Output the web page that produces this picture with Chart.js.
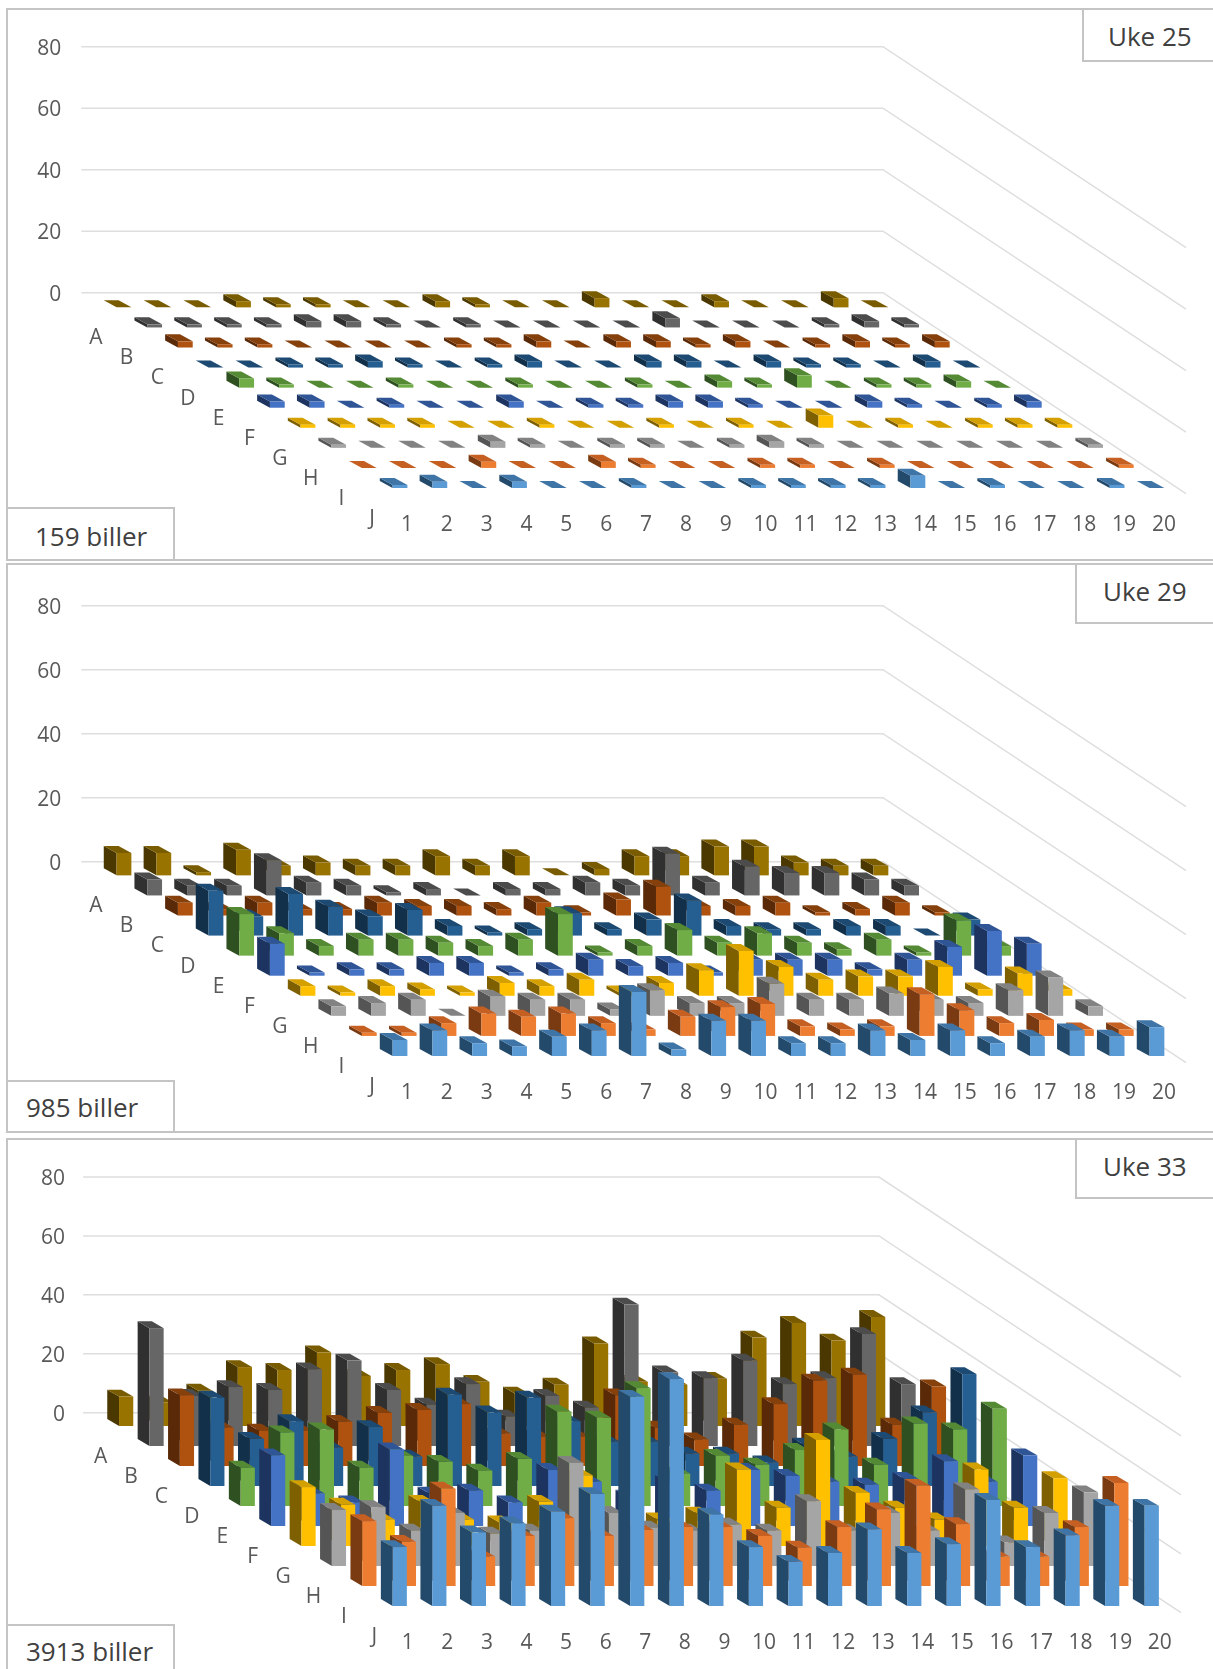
<!DOCTYPE html>
<html>
<head>
<meta charset="utf-8">
<title>Uke 25, 29, 33</title>
<script src="https://cdn.jsdelivr.net/npm/chart.js@4"></script>
<style>
html,body{margin:0;padding:0;background:#fff}
#page{position:relative;width:1213px;height:1669px;overflow:hidden;font-family:"Open Sans",sans-serif}
canvas{position:absolute;left:0}
.frame{position:absolute;left:6px;right:-10px;border:2px solid #c4c4c4;box-sizing:border-box}
.tag{position:absolute;background:#fff;border:2px solid #c4c4c4;box-sizing:border-box;font-size:26px;color:#404040;white-space:nowrap}
</style>
</head>
<body>
<div id="page"></div>
<script>
const columns=["1","2","3","4","5","6","7","8","9","10","11","12","13","14","15","16","17","18","19","20"]
const rows=["A","B","C","D","E","F","G","H","I","J"]
const yTicks=[0,20,40,60,80]

const uke25=[
[0,0,0,2,1,1,0,0,2,1,0,0,3,0,0,2,0,0,3,0],
[1,1,1,1,2,2,1,0,1,0,0,0,0,3,0,0,0,1,2,1],
[2,1,1,0,0,0,0,1,1,2,0,2,2,1,2,0,1,2,1,2],
[0,0,1,1,2,1,0,1,2,0,0,2,2,0,2,1,1,0,2,0],
[3,1,0,0,1,0,0,1,0,0,1,0,2,1,4,0,1,1,2,0],
[2,2,0,1,0,0,2,0,1,1,2,2,1,0,0,2,1,0,1,2],
[1,1,1,1,0,0,1,0,0,1,0,1,0,4,0,1,0,1,1,1],
[1,0,0,0,2,1,0,1,1,0,1,2,1,0,0,0,0,0,0,1],
[0,0,0,2,0,0,2,1,0,0,1,1,0,1,0,0,0,0,0,1],
[1,2,0,2,0,0,1,0,0,1,1,1,1,4,0,1,0,0,1,0]
]
const uke29=[
[7,7,1,8,3,4,3,3,6,3,6,0,2,6,6,9,9,4,3,3],
[5,3,3,11,4,3,1,2,0,2,2,4,3,13,4,9,7,7,5,3],
[4,2,4,2,2,4,3,3,2,4,1,5,9,3,3,4,1,2,4,1],
[14,6,13,9,6,8,3,1,2,7,2,5,11,3,2,2,3,3,0,5],
[13,7,3,5,5,4,3,5,13,1,3,8,4,7,4,2,5,1,11,3],
[10,1,2,2,4,4,1,2,5,3,4,1,5,5,5,2,5,9,14,10],
[3,1,3,2,1,4,3,5,1,4,8,14,9,5,6,6,9,2,7,2],
[3,4,5,0,6,5,5,2,8,4,4,10,5,5,7,5,4,8,12,3],
[1,1,4,7,6,7,4,2,6,9,10,3,2,3,13,8,4,5,2,2],
[5,8,4,3,6,8,20,2,11,11,4,4,8,5,8,4,6,8,6,9]
]
const uke33=[
[10,8,12,20,19,25,17,19,21,15,11,14,28,15,14,16,30,35,29,37],
[40,17,20,19,26,29,19,14,21,10,17,13,48,25,23,29,21,23,38,21],
[24,13,12,12,15,18,19,21,11,10,10,24,13,9,14,21,29,31,14,27],
[30,16,22,13,20,10,31,25,30,22,15,15,11,11,8,14,10,16,25,38],
[13,25,26,13,17,15,12,16,32,30,40,11,17,14,19,26,14,28,26,33],
[24,11,8,26,11,12,8,19,15,10,15,12,19,17,15,14,16,22,15,24],
[20,14,9,15,9,8,15,24,8,9,11,26,13,36,18,13,9,26,13,23],
[19,20,12,18,11,12,35,18,13,12,14,12,22,12,18,12,26,8,18,25],
[22,15,33,10,17,23,17,19,20,20,17,13,20,26,34,21,10,10,20,35],
[20,34,25,28,32,38,71,77,31,20,15,18,26,18,21,36,20,24,34,34]
]

const rowFront=["#997300","#666666","#b0520f","#255e91","#70ad47","#4472c4","#ffc000","#a5a5a5","#ed7d31","#5b9bd5"]
const rowSide=["#4a3800","#303030","#5a2a08","#12304a","#2f5020","#1d3461","#7f6000","#555555","#7a3b12","#234a6b"]
const rowTop=["#7a5c00","#4c4c4c","#85400c","#1c4a72","#558a35","#2f5597","#d4a000","#828282","#c55f22","#3f75a6"]

// page layout of the three panels, all in page pixels
const panels=[
{data:uke25,week:"Uke 25",count:"159 biller",top:0,height:563,y80:46.7,zero:292.7,bottom:497,
 col1:400,colGap:39.84,rowDx:30.67,rowDy:20.07,frontRow:488,w:14.8,dx:12.8,dy:7,wallX:883,wallDx:303,wallDy:201,tickPad:15,colShift:7,rowShift:0.5,
 frame:{top:8,height:553},weekBox:{left:1082,top:8,height:54,line:52,pad:24},countBox:{top:507,height:54,line:54,pad:27}},
{data:uke29,week:"Uke 29",count:"985 biller",top:563,height:572,y80:605.7,zero:861.7,bottom:1060,
 col1:400,colGap:39.84,rowDx:30.67,rowDy:20.07,frontRow:1056,w:14.8,dx:12.8,dy:7,wallX:883,wallDx:303,wallDy:201,tickPad:20,colShift:7,rowShift:0.5,
 frame:{top:563,height:570},weekBox:{left:1075,top:563,height:61,line:53,pad:26},countBox:{top:1080,height:53,line:50,pad:18}},
{data:uke33,week:"Uke 33",count:"3913 biller",top:1135,height:534,y80:1177,zero:1412.7,bottom:1610,
 col1:399.75,colGap:39.58,rowDx:30.4,rowDy:20,frontRow:1606,w:14.2,dx:11.8,dy:6.9,wallX:879,wallDx:302,wallDy:200,tickPad:20,colShift:8,rowShift:3,
 frame:{top:1138,height:560},weekBox:{left:1075,top:1138,height:61,line:53,pad:26},countBox:{top:1624,height:60,line:51,pad:18}}
]

class Box3dController extends Chart.ScatterController{
draw(){
const ctx=this.chart.ctx
const meta=this.getMeta()
const ds=this.getDataset()
const p=ds.panel
const r=ds.rowIndex
const zero=meta.yScale.getPixelForValue(0)
const base=p.frontRow-p.top-(rows.length-1-r)*p.rowDy
const shift=(rows.length-1-r)*p.rowDx
meta.data.forEach(pt=>{
let left=pt.x-shift-p.w/2
let h=zero-pt.y
let top=base-h
ctx.fillStyle=rowSide[r]
ctx.beginPath()
ctx.moveTo(left,base)
ctx.lineTo(left,top)
ctx.lineTo(left-p.dx,top-p.dy)
ctx.lineTo(left-p.dx,base-p.dy)
ctx.closePath()
ctx.fill()
ctx.fillStyle=rowTop[r]
ctx.beginPath()
ctx.moveTo(left,top)
ctx.lineTo(left+p.w,top)
ctx.lineTo(left+p.w-p.dx,top-p.dy)
ctx.lineTo(left-p.dx,top-p.dy)
ctx.closePath()
ctx.fill()
ctx.fillStyle=rowFront[r]
ctx.fillRect(left,top,p.w,h)
})
// row name sits in front of the first column
ctx.fillStyle="#595959"
ctx.font='21px "Open Sans"'
ctx.textAlign="center"
ctx.textBaseline="middle"
ctx.fillText(ds.label,meta.data[0].x-shift-28.5+p.rowShift,base+31)
}
}
Box3dController.id="box3d"
Box3dController.defaults=Chart.ScatterController.defaults
Chart.register(Box3dController)

const wallPlugin={
id:"walls",
beforeDatasetsDraw(chart){
const p=chart.options.plugins.walls.panel
const ctx=chart.ctx
const y=chart.scales.y
ctx.save()
ctx.strokeStyle="#dedede"
ctx.lineWidth=1.5
yTicks.forEach(v=>{
let py=y.getPixelForValue(v)
ctx.beginPath()
ctx.moveTo(chart.chartArea.left,py)
ctx.lineTo(p.wallX,py)
ctx.lineTo(p.wallX+p.wallDx,py+p.wallDy)
ctx.stroke()
})
ctx.restore()
}
}

function addBox(cls,text,css){
let d=document.createElement("div")
d.className=cls
d.textContent=text||""
Object.assign(d.style,css)
document.getElementById("page").appendChild(d)
return d
}

function drawPanel(p){
addBox("frame","",{top:p.frame.top+"px",height:p.frame.height+"px"})

let canvas=document.createElement("canvas")
canvas.width=1213
canvas.height=p.height
canvas.style.top=p.top+"px"
document.getElementById("page").appendChild(canvas)

let left=p.col1-8*p.colGap
let right=left+28*p.colGap
let yMin=-(p.bottom-p.zero)*80/(p.zero-p.y80)

new Chart(canvas,{
type:"box3d",
data:{
datasets:p.data.map((vals,r)=>({
label:rows[r],
rowIndex:r,
panel:p,
order:rows.length-r,
pointRadius:0,
data:vals.map((v,c)=>({x:c+1,y:v}))
}))
},
plugins:[wallPlugin],
options:{
responsive:false,
animation:false,
events:[],
layout:{autoPadding:false,padding:{left:0,right:1213-right,top:p.y80-p.top,bottom:0}},
plugins:{legend:{display:false},tooltip:{enabled:false},walls:{panel:p}},
scales:{
x:{
type:"linear",
min:-7,
max:21,
bounds:"data",
grid:{display:false,drawTicks:false},
border:{display:false},
afterBuildTicks:s=>{s.ticks=columns.map((c,i)=>({value:i+1}))},
afterFit:s=>{s.height=p.top+p.height-p.bottom},
ticks:{
autoSkip:false,
maxRotation:0,
padding:p.tickPad,
labelOffset:p.colShift,
color:"#595959",
font:{family:"Open Sans",size:21},
callback:v=>columns[v-1]
}
},
y:{
type:"linear",
min:yMin,
max:80,
bounds:"data",
grid:{display:false,drawTicks:false},
border:{display:false},
afterBuildTicks:s=>{s.ticks=yTicks.map(v=>({value:v}))},
afterFit:s=>{s.width=left},
ticks:{
padding:p===panels[2]?18:20,
labelOffset:2,
color:"#595959",
font:{family:"Open Sans",size:21}
}
}
}
}
})

addBox("tag",p.week,{left:p.weekBox.left+"px",top:p.weekBox.top+"px",width:"160px",height:p.weekBox.height+"px",lineHeight:p.weekBox.line+"px",paddingLeft:p.weekBox.pad+"px"})
addBox("tag",p.count,{left:"6px",top:p.countBox.top+"px",width:"169px",height:p.countBox.height+"px",lineHeight:p.countBox.line+"px",paddingLeft:p.countBox.pad+"px"})
}

panels.forEach(drawPanel)
</script>
</body>
</html>
